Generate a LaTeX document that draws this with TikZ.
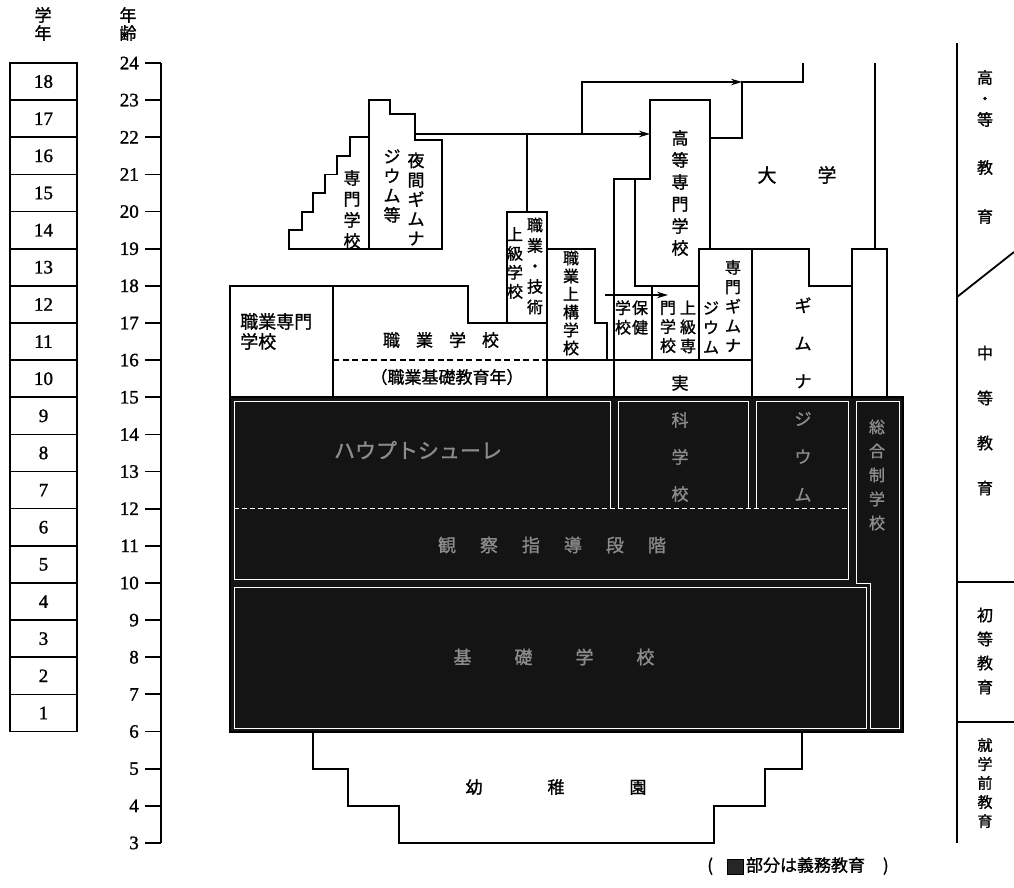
\documentclass[tikz,border=0pt]{standalone}
\usepackage{fontspec}
\newfontfamily\jp{Noto Sans CJK JP}[FakeBold=1.2]
\newfontfamily\numf{Liberation Serif}[FakeBold=1.3]
\usetikzlibrary{arrows.meta}
\newcommand\jpf[2]{\jp\fontsize{#1}{#2}\selectfont}
\newcommand\dkc[1]{\textcolor{white!55!black}{#1}}
\begin{document}
\begin{tikzpicture}[x=1pt,y=-1pt,
  box/.style={line width=1.8pt, line join=miter},
  conn/.style={line width=1.3pt},
  arr/.style={line width=1.3pt,-{Stealth[length=11pt,width=6.5pt]}},
  wl/.style={white,line width=0.9pt},
  jt/.style={align=center, inner sep=0pt},
  dk/.style={text=white!55!black},
  num/.style={font=\numf\fontsize{19}{19}\selectfont, inner sep=0pt}]
\useasboundingbox (0,0) rectangle (1014,888);
\fill[white] (0,0) rectangle (1014,888);

% headers
\node[jt, font=\jpf{17}{18}] (hgrade) at (43,24) {学\\年};
\node[jt, font=\jpf{17}{18}] (hage) at (128,24) {年\\齢};

% grade boxes
\foreach \g in {1,...,18}{
  \pgfmathsetmacro\yy{63+(18-\g)*37.14+18.57}
  \node[draw,line width=1.6pt,minimum width=67pt,minimum height=37.14pt,num] (g\g) at (43.5,\yy) {\g};
}

% age axis
\foreach \a in {3,...,24}{
  \pgfmathsetmacro\yy{63+(24-\a)*37.14}
  \draw[line width=1.8pt] (145,\yy) -- (161,\yy);
  \node[num,anchor=east] (age\a) at (139,\yy) {\a};
}
\draw[line width=1.8pt] (161,63) -- (161,843);

% compulsory (dark) block
\fill[black!92] (230,397.3) rectangle (903,731.6);
\draw[box] (230,397.3) rectangle (903,731.6);
\draw[wl] (234,508) -- (234,401) -- (610,401) -- (610,508);
\draw[wl] (618,508) -- (618,401) -- (748,401) -- (748,508);
\draw[wl] (756,508) -- (756,401) -- (848,401) -- (848,508);
\draw[wl,dash pattern=on 5pt off 3pt] (234,508) -- (848,508);
\draw[wl] (234,508) -- (234,579) -- (848,579) -- (848,508);
\draw[wl] (234,587) rectangle (866,728);
\draw[wl] (856,401) -- (899,401) -- (899,728) -- (870,728) -- (870,583) -- (856,583) -- cycle;

% 専門学校 staircase
\draw[box] (289,248.7) -- (289,230.1) -- (302,230.1) -- (302,211.6) -- (313,211.6) -- (313,193.0) -- (325,193.0) -- (325,174.4) -- (337,174.4) -- (337,155.9) -- (350,155.9) -- (350,137.3) -- (369,137.3) -- (369,248.7) -- cycle;
% 夜間ギムナジウム等
\draw[box] (369,248.7) -- (369,100.1) -- (390,100.1) -- (390,114) -- (415,114) -- (415,140) -- (442,140) -- (442,248.7) -- cycle;

% 職業専門学校
\draw[box] (230,397.3) -- (230,285.9) -- (333,285.9) -- (333,397.3);
% 職業学校
\draw[box] (333,285.9) -- (468,285.9) -- (468,323) -- (547,323);
\draw[box] (507,323) -- (507,211.6) -- (547,211.6) -- (547,397.3);
\draw[line width=1.4pt, dash pattern=on 6pt off 3.5pt] (333,360.1) -- (547,360.1);
% 職業上構学校
\draw[box] (547,248.7) -- (595,248.7) -- (595,323) -- (607,323) -- (607,360.1) -- (547,360.1);
% 高等専門学校 and neighbours
\draw[box] (614,397.3) -- (614,179) -- (650,179) -- (650,100.1) -- (710,100.1) -- (710,248.7);
\draw[box] (635,179) -- (635,285.9) -- (699,285.9);
\draw[box] (652,285.9) -- (652,360.1);
\draw[box] (607,360.1) -- (752,360.1);
\draw[box] (699,360.1) -- (699,248.7) -- (752,248.7);
% ギムナジウム
\draw[box] (752,397.3) -- (752,248.7) -- (809,248.7) -- (809,285.9) -- (852,285.9) -- (852,397.3);
% 総合制学校 upper
\draw[box] (852,285.9) -- (852,248.7) -- (887,248.7) -- (887,397.3);
\draw[box] (875,63) -- (875,248.7);
% 大学 outline
\draw[box] (803,63) -- (803,82) -- (742,82) -- (742,138) -- (710,138);

% kindergarten
\draw[box] (313,731.6) -- (313,768.7) -- (348,768.7) -- (348,805.9) -- (399,805.9) -- (399,843) -- (714,843) -- (714,805.9) -- (765,805.9) -- (765,768.7) -- (802,768.7) -- (802,731.6);

% connectors
\coordinate (n1) at (415,134);
\coordinate (n1e) at (650,134);
\coordinate (n2) at (527,134);
\coordinate (n2e) at (527,211.6);
\coordinate (n3) at (582,134);
\coordinate (n3e) at (742,82);
\coordinate (n4) at (605,295);
\coordinate (n4e) at (668,295);
\draw[arr] (n1) -- (n1e);
\draw[conn] (n2) -- (n2e);
\draw[arr] (n3) |- (n3e);
\draw[arr] (n4) -- (n4e);

% right column
\draw[box] (957,43) -- (957,843);
\draw[box] (957,297) -- (1014,252);
\draw[box] (957,582) -- (1014,582);
\draw[box] (957,722) -- (1014,722);

% texts (white areas)
\node[jt, font=\jpf{17}{21}] (t1) at (352,209.5) {専\\門\\学\\校};
\node[jt, font=\jpf{17}{19.5}] (t2a) at (416,199) {夜\\間\\ギ\\ム\\ナ};
\node[jt, font=\jpf{17}{19.5}] (t2b) at (392,186) {ジ\\ウ\\ム\\等};
\node[jt, font=\jpf{16}{20.5}] (t3a) at (535,266) {職\\業\\・\\技\\術};
\node[jt, font=\jpf{16}{19}] (t3b) at (515,263) {上\\級\\学\\校};
\node[jt, font=\jpf{16}{18}] (t4) at (571,303) {職\\業\\上\\構\\学\\校};
\node[jt, font=\jpf{17}{22}] (t5) at (680,193) {高\\等\\専\\門\\学\\校};
\node[jt, font=\jpf{19}{19}] (t6) at (797,175) {大\hspace{41pt}学};
\node[jt, font=\jpf{16}{19.5}] (t7a) at (733,306) {専\\門\\ギ\\ム\\ナ};
\node[jt, font=\jpf{16}{19.5}] (t7b) at (711,327.5) {ジ\\ウ\\ム};
\node[jt, font=\jpf{16}{19.5}] (t8a) at (640,317.5) {保\\健};
\node[jt, font=\jpf{16}{19.5}] (t8b) at (623,317.5) {学\\校};
\node[jt, font=\jpf{16}{19}] (t9a) at (688,327) {上\\級\\専};
\node[jt, font=\jpf{16}{19}] (t9b) at (668,327) {門\\学\\校};
\node[jt, font=\jpf{17}{37.8}] (t10) at (803,399.5) {ギ\\ム\\ナ\\\dkc{ジ}\\\dkc{ウ}\\\dkc{ム}};
\node[jt, font=\jpf{17}{37}] (t11) at (680,438.5) {実\\\dkc{科}\\\dkc{学}\\\dkc{校}};
\node[jt, align=left, anchor=west, font=\jpf{18}{20}] (t12) at (240,331.5) {職業専門\\学校};
\node[jt, font=\jpf{17}{17}] (t13) at (441,340) {職\hspace{16pt}業\hspace{16pt}学\hspace{16pt}校};
\node[jt, font=\jpf{17}{17}] (t14) at (447,377) {（職業基礎教育年）};
\node[jt, font=\jpf{17}{17}] (t15) at (556,787) {幼\hspace{65pt}稚\hspace{65pt}園};

% texts (dark areas)
\node[jt, dk, font=\jpf{21}{21}] (d1) at (418,450) {ハウプトシューレ};
\node[jt, dk, font=\jpf{18}{18}] (d2) at (552,545) {観\hspace{24pt}察\hspace{24pt}指\hspace{24pt}導\hspace{24pt}段\hspace{24pt}階};
\node[jt, dk, font=\jpf{18}{18}] (d3) at (554,657) {基\hspace{43pt}礎\hspace{43pt}学\hspace{43pt}校};
\node[jt, dk, font=\jpf{16}{24}] (d4) at (877,475) {総\\合\\制\\学\\校};

% right column labels
\node[jt, font=\jpf{16}{21}] (r1) at (985,147) {高\\・\\等\\[27pt]教\\[28pt]育};
\node[jt, font=\jpf{16}{45}] (r2) at (985,420.5) {中\\等\\教\\育};
\node[jt, font=\jpf{16}{24}] (r3) at (985,651) {初\\等\\教\\育};
\node[jt, font=\jpf{15}{19}] (r4) at (985,783) {就\\学\\前\\教\\育};

% legend
\node[jt, font=\jpf{17}{17}] (leg) at (798,866) {(\hspace{14pt}{\setlength{\fboxsep}{0pt}\setlength{\fboxrule}{1pt}\fbox{\textcolor{black!85}{\rule[-2pt]{15pt}{14pt}}}}\hspace{2pt}部分は義務教育\hspace{18pt})};
\end{tikzpicture}
\end{document}
